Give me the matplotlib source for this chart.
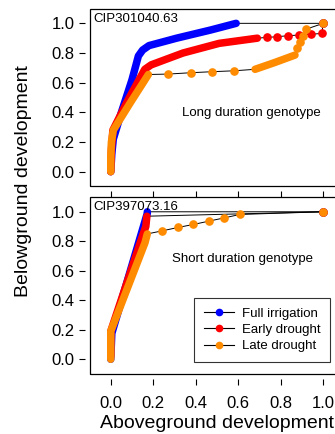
import matplotlib
matplotlib.use('Agg')
from matplotlib import pyplot as plt
from matplotlib.lines import Line2D
from matplotlib.patches import Rectangle

plt.rcParams['font.family'] = ['Liberation Sans', 'DejaVu Sans']

# ---- data ----
# path vertices in order; dense=1 marks the packed daily points that form a band
# Long duration genotype (CIP301040.63)
long_full_x = [0, 0.005, 0.012, 0.05, 0.10, 0.13, 0.15, 0.18, 0.31, 0.47, 0.59, 1.0]
long_full_y = [0, 0.12, 0.22, 0.40, 0.62, 0.78, 0.82, 0.85, 0.90, 0.955, 1.0, 1.0]
long_full_d = [1, 1, 1, 1, 1, 1, 1, 1, 1, 1, 1, 0]

long_early_x = [0, 0.003, 0.01, 0.08, 0.16, 0.19, 0.34, 0.51, 0.69,
                0.734, 0.784, 0.836, 0.888, 0.94, 0.993, 1.0]
long_early_y = [0, 0.15, 0.28, 0.48, 0.69, 0.72, 0.80, 0.865, 0.90,
                0.905, 0.91, 0.917, 0.921, 0.926, 0.932, 1.0]
long_early_d = [1, 1, 1, 1, 1, 1, 1, 1, 1, 0, 0, 0, 0, 0, 0, 0]

long_late_x = [0, 0, 0.003, 0.012, 0.09, 0.177,
               0.271, 0.376, 0.478, 0.579,
               0.679, 0.77, 0.867,
               0.878, 0.891, 0.903, 0.918, 1.0]
long_late_y = [0, 0.10, 0.20, 0.28, 0.46, 0.655,
               0.658, 0.667, 0.674, 0.68,
               0.69, 0.735, 0.786,
               0.831, 0.872, 0.914, 0.96, 1.0]
long_late_d = [1, 1, 1, 1, 1, 1, 0, 0, 0, 0, 1, 1, 1, 0, 0, 0, 0, 0]

# Short duration genotype (CIP397073.16)
short_full_x = [0, 0.005, 0.172, 0.172, 1.0]
short_full_y = [0, 0.176, 0.99, 1.0, 1.0]
short_full_d = [1, 1, 1, 1, 0]

short_early_x = [0, 0, 0.15, 0.165, 0.17, 1.0]
short_early_y = [0.02, 0.19, 0.84, 0.90, 0.97, 1.0]
short_early_d = [1, 1, 1, 1, 1, 0]

short_late_x = [0, 0, 0.161, 0.172, 0.243, 0.317, 0.389, 0.463, 0.535, 0.608, 1.0]
short_late_y = [0, 0.19, 0.79, 0.85, 0.871, 0.894, 0.914, 0.937, 0.959, 0.982, 1.0]
short_late_d = [1, 1, 1, 1, 0, 0, 0, 0, 0, 0, 0]

treatments = ['Full irrigation', 'Early drought', 'Late drought']
colors = ['#0000FF', '#FF0000', '#FF8C00']
ticks = [0.0, 0.2, 0.4, 0.6, 0.8, 1.0]

panels = [
    ('CIP301040.63', 'Long duration genotype', (0.663, 0.393),
     [(long_full_x, long_full_y, long_full_d),
      (long_early_x, long_early_y, long_early_d),
      (long_late_x, long_late_y, long_late_d)]),
    ('CIP397073.16', 'Short duration genotype', (0.621, 0.68),
     [(short_full_x, short_full_y, short_full_d),
      (short_early_x, short_early_y, short_early_d),
      (short_late_x, short_late_y, short_late_d)]),
]


def draw_series(ax, x, y, d, c, z):
    # band for packed points
    seg_x, seg_y = [], []
    for xi, yi, di in zip(x, y, d):
        if di:
            seg_x.append(xi)
            seg_y.append(yi)
        else:
            if seg_x:
                ax.plot(seg_x, seg_y, color=c, lw=5.4, solid_capstyle='round',
                        solid_joinstyle='round', zorder=z)
            seg_x, seg_y = [], []
            ax.plot([xi], [yi], 'o', color=c, ms=5.2, mec=c, zorder=z)
    if seg_x:
        ax.plot(seg_x, seg_y, color=c, lw=5.4, solid_capstyle='round',
                solid_joinstyle='round', zorder=z)


fig = plt.figure(figsize=(3.35, 4.34), dpi=100)
ax1 = fig.add_axes([0.2672, 0.5703, 0.7612, 0.4101])
ax2 = fig.add_axes([0.2672, 0.1382, 0.7612, 0.4078])

for ax, (cip, label, lpos, series) in zip([ax1, ax2], panels):
    # thin connecting lines underneath
    for (x, y, d) in series:
        ax.plot(x, y, 'k-', lw=0.7, zorder=1)
    for i, (x, y, d) in enumerate(series):
        draw_series(ax, x, y, d, colors[i], 2 + i)

    ax.set_xlim(-0.1, 1.1)
    ax.set_ylim(-0.1, 1.1)
    ax.set_xticks(ticks)
    ax.set_yticks(ticks)
    ax.set_yticklabels(['%.1f' % t for t in ticks])
    for s in ['left', 'bottom']:
        ax.spines[s].set_position(('outward', 3.5))
        ax.spines[s].set_visible(False)
    for s in ['top', 'right']:
        ax.spines[s].set_visible(False)
    ax.add_patch(Rectangle((0, 0), 1, 1, transform=ax.transAxes, fill=False,
                           lw=0.9, ec='k', clip_on=False, zorder=10))
    ax.tick_params(direction='out', length=4.2, width=0.8, labelsize=12)
    ax.tick_params(axis='y', pad=3)
    ax.tick_params(axis='x', pad=8)

    ax.text(-0.082, 1.03, cip, fontsize=9.5, ha='left', va='center')
    ax.text(lpos[0], lpos[1], label, fontsize=9.5, ha='center', va='center')

ax1.set_xticklabels([])
ax2.set_xticklabels(['%.1f' % t for t in ticks])

handles = [Line2D([], [], color='k', lw=0.8, marker='o', ms=4.5,
                  mfc=c, mec=c) for c in colors]
leg = ax2.legend(handles, treatments, loc='upper left',
                 bbox_to_anchor=(0.41, 0.431), borderaxespad=0,
                 fontsize=9.5, frameon=True, fancybox=False, edgecolor='k',
                 handlelength=2.3, handletextpad=0.58, borderpad=0.75,
                 labelspacing=0.3)
leg.get_frame().set_linewidth(0.8)

fig.text(24 / 335, 1 - 181 / 434, 'Belowground development', rotation=90,
         fontsize=14, ha='center', va='center')
fig.text(217 / 335, 1 - 423 / 434, 'Aboveground development',
         fontsize=14, ha='center', va='center')

plt.savefig('out.png', dpi=100)
